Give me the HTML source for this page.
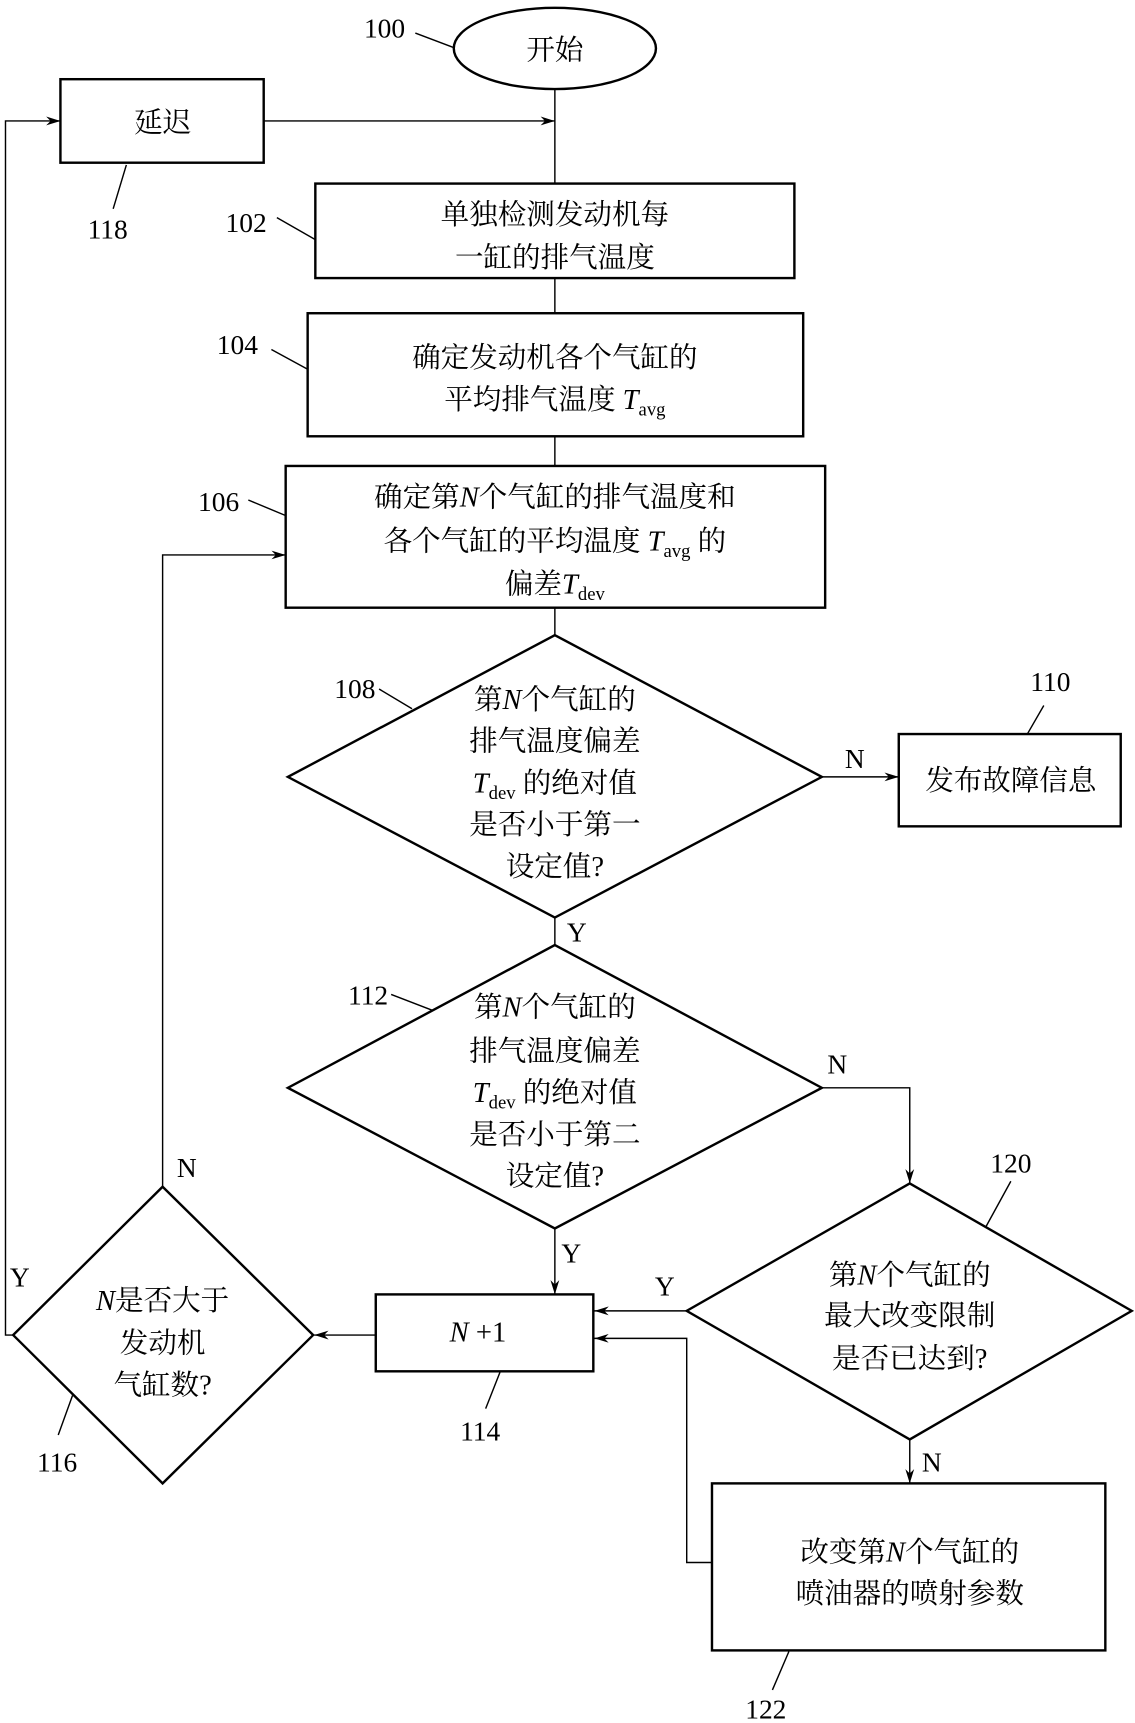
<!DOCTYPE html>
<html><head><meta charset="utf-8"><style>
html,body{margin:0;padding:0;background:#fff}
svg{display:block}
text{font-family:"Liberation Serif","Noto Serif CJK SC",serif;fill:#000}
.t{font-size:26px;text-anchor:middle}
.n{font-size:25px;text-anchor:middle}
</style></head><body>
<svg width="1135" height="1723" viewBox="0 0 1033 1568" xmlns="http://www.w3.org/2000/svg">
<defs><marker id="a" markerWidth="14" markerHeight="10" refX="13" refY="5" orient="auto" markerUnits="userSpaceOnUse"><path d="M0,1 L13,5 L0,9 L4,5 Z" fill="#000"/></marker></defs>
<g stroke="#000" fill="none" stroke-width="1.3">
<line x1="505" y1="80" x2="505" y2="167"/>
<line x1="240" y1="110" x2="505" y2="110" marker-end="url(#a)"/>
<polyline points="12,1215 5,1215 5,110 55,110" marker-end="url(#a)"/>
<line x1="505" y1="253" x2="505" y2="285"/>
<line x1="505" y1="397" x2="505" y2="424"/>
<line x1="505" y1="553" x2="505" y2="578"/>
<polyline points="148,1080 148,505 260,505" marker-end="url(#a)"/>
<line x1="748" y1="707" x2="818" y2="707" marker-end="url(#a)"/>
<line x1="505" y1="835" x2="505" y2="860"/>
<polyline points="748,990 828,990 828,1077" marker-end="url(#a)"/>
<line x1="505" y1="1118" x2="505" y2="1178" marker-end="url(#a)"/>
<line x1="625" y1="1193" x2="541" y2="1193" marker-end="url(#a)"/>
<polyline points="648,1422 625,1422 625,1218 541,1218" marker-end="url(#a)"/>
<line x1="342" y1="1215" x2="286" y2="1215" marker-end="url(#a)"/>
<line x1="828" y1="1310" x2="828" y2="1350" marker-end="url(#a)"/>
<line x1="378" y1="30" x2="415" y2="44"/>
<line x1="115" y1="150" x2="103" y2="190"/>
<line x1="252" y1="198" x2="287" y2="218"/>
<line x1="247" y1="318" x2="280" y2="336"/>
<line x1="226" y1="455" x2="262" y2="470"/>
<line x1="345" y1="627" x2="375" y2="645"/>
<line x1="950" y1="642" x2="935" y2="668"/>
<line x1="356" y1="905" x2="395" y2="920"/>
<line x1="920" y1="1075" x2="897" y2="1117"/>
<line x1="455" y1="1249" x2="442" y2="1282"/>
<line x1="66" y1="1270" x2="53" y2="1306"/>
<line x1="718" y1="1503" x2="703" y2="1538"/>
</g>
<g stroke="#000" fill="#fff" stroke-width="2.2">
<ellipse cx="505" cy="44" rx="92" ry="37"/>
<rect x="55" y="72" width="185" height="76"/>
<rect x="287" y="167" width="436" height="86"/>
<rect x="280" y="285" width="451" height="112"/>
<rect x="260" y="424" width="491" height="129"/>
<polygon points="505,578 748,707 505,835 262,707"/>
<rect x="818" y="668" width="202" height="84"/>
<polygon points="505,860 748,990 505,1118 262,990"/>
<polygon points="828,1077 1030,1193 828,1310 625,1193"/>
<rect x="342" y="1178" width="198" height="70"/>
<polygon points="148,1080 285,1215 148,1350 12,1215"/>
<rect x="648" y="1350" width="358" height="152"/>
</g>
<g class="t">
<text x="505" y="54">开始</text>
<text x="148" y="120">延迟</text>
<text x="505" y="204">单独检测发动机每</text>
<text x="505" y="243">一缸的排气温度</text>
<text x="505" y="334">确定发动机各个气缸的</text>
<text x="505" y="372">平均排气温度 <tspan font-style="italic">T</tspan><tspan font-size="17" dy="6">avg</tspan></text>
<text x="505" y="461">确定第<tspan font-style="italic">N</tspan>个气缸的排气温度和</text>
<text x="505" y="501">各个气缸的平均温度 <tspan font-style="italic">T</tspan><tspan font-size="17" dy="6">avg</tspan><tspan dy="-6"> 的</tspan></text>
<text x="505" y="540">偏差<tspan font-style="italic">T</tspan><tspan font-size="17" dy="6">dev</tspan></text>
<text x="505" y="645">第<tspan font-style="italic">N</tspan>个气缸的</text>
<text x="505" y="683">排气温度偏差</text>
<text x="505" y="721"><tspan font-style="italic">T</tspan><tspan font-size="17" dy="6">dev</tspan><tspan dy="-6"> 的绝对值</tspan></text>
<text x="505" y="759">是否小于第一</text>
<text x="505" y="797">设定值?</text>
<text x="920" y="719">发布故障信息</text>
<text x="505" y="925">第<tspan font-style="italic">N</tspan>个气缸的</text>
<text x="505" y="965">排气温度偏差</text>
<text x="505" y="1003"><tspan font-style="italic">T</tspan><tspan font-size="17" dy="6">dev</tspan><tspan dy="-6"> 的绝对值</tspan></text>
<text x="505" y="1041">是否小于第二</text>
<text x="505" y="1079">设定值?</text>
<text x="828" y="1169">第<tspan font-style="italic">N</tspan>个气缸的</text>
<text x="828" y="1206">最大改变限制</text>
<text x="828" y="1245">是否已达到?</text>
<text x="435" y="1221"><tspan font-style="italic">N</tspan> +1</text>
<text x="148" y="1192"><tspan font-style="italic">N</tspan>是否大于</text>
<text x="148" y="1231">发动机</text>
<text x="148" y="1269">气缸数?</text>
<text x="828" y="1421">改变第<tspan font-style="italic">N</tspan>个气缸的</text>
<text x="828" y="1459">喷油器的喷射参数</text>
</g>
<g class="n">
<text x="350" y="34">100</text>
<text x="98" y="217">118</text>
<text x="224" y="211">102</text>
<text x="216" y="322">104</text>
<text x="199" y="465">106</text>
<text x="323" y="635">108</text>
<text x="956" y="629">110</text>
<text x="335" y="914">112</text>
<text x="920" y="1067">120</text>
<text x="437" y="1311">114</text>
<text x="52" y="1339">116</text>
<text x="697" y="1564">122</text>
<text x="778" y="699">N</text>
<text x="525" y="857">Y</text>
<text x="762" y="977">N</text>
<text x="520" y="1149">Y</text>
<text x="605" y="1179">Y</text>
<text x="848" y="1339">N</text>
<text x="170" y="1071">N</text>
<text x="18" y="1171">Y</text>
</g>
</svg>
</body></html>
